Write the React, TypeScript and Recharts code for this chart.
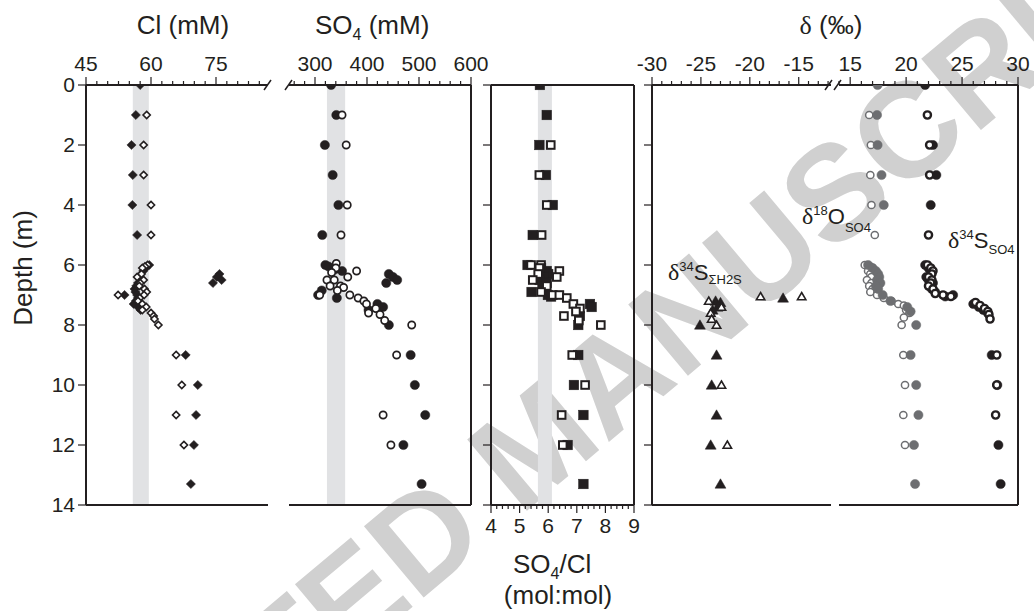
import React from 'react';
import { ScatterChart, Scatter, XAxis, YAxis, ReferenceArea, ReferenceLine } from 'recharts';

const INK = '#231f20';
const GREY = '#6d6e71';
const BAND = '#e1e2e4';
const FONT = '"Liberation Sans", Arial, Helvetica, sans-serif';
const SERIF = '"Liberation Serif", "DejaVu Serif", serif';

const W = 1034;
const H = 611;
const PLOT_TOP = 85;
const PLOT_BOTTOM = 505;

// depth axis (m, reversed)
const depthTicks = [0, 2, 4, 6, 8, 10, 12, 14];

// labelled x ticks
const clTicks = [45, 60, 75];
const so4Ticks = [300, 400, 500, 600];
const ratioTicks = [4, 5, 6, 7, 8, 9];
const isoLowTicks = [-30, -25, -20, -15];
const isoHighTicks = [15, 20, 25, 30];

// grey reference bands
const clBand = [55.8, 59.5];
const so4Band = [323, 358];
const ratioBand = [5.64, 6.13];

// all series are [depth (m), value]
const clFilled: [number, number][] = [
  [0, 57.5], [1, 56.5], [2, 55.5], [3, 55.8], [4, 55.7], [5, 56.8],
  [6.0, 59.6], [6.1, 58.8], [6.2, 58.2], [6.3, 75.8], [6.4, 75.2], [6.5, 76.3], [6.6, 74.3],
  [6.4, 57.2], [6.6, 57.0], [6.7, 56.6], [6.8, 56.2], [6.9, 56.4], [7.0, 53.9], [7.0, 56.8],
  [7.1, 57.0], [7.2, 56.5], [7.3, 56.0], [7.4, 57.0], [7.5, 57.6],
  [9, 68.0], [10, 70.8], [11, 70.4], [12, 69.9], [13.3, 69.2],
];
const clOpen: [number, number][] = [
  [1, 59.0], [2, 58.3], [3, 58.3], [4, 60.0], [5, 60.0],
  [6.0, 59.2], [6.05, 58.6], [6.1, 58.0], [6.3, 57.8], [6.4, 56.8], [6.5, 58.3], [6.6, 57.5],
  [6.7, 57.3], [6.8, 58.5], [6.9, 59.0], [7.0, 52.4], [7.0, 58.4], [7.1, 57.4], [7.2, 57.0],
  [7.3, 58.0], [7.4, 58.9], [7.5, 58.0], [7.6, 60.0], [7.7, 60.6], [7.8, 60.8], [8.0, 61.7],
  [9, 65.8], [10, 67.1], [11, 65.8], [12, 67.6],
];

const so4Filled: [number, number][] = [
  [0, 331], [1, 341], [2, 319], [3, 334], [4, 345], [5, 314],
  [6.0, 320], [6.05, 326], [6.15, 338], [6.2, 352], [6.3, 442], [6.4, 450], [6.5, 458], [6.6, 437],
  [6.85, 313], [7.0, 306], [7.1, 342], [7.3, 420], [7.4, 431], [7.5, 403], [8.0, 442],
  [9, 484], [10, 492], [11, 512], [12, 470], [13.3, 505],
];
const so4Open: [number, number][] = [
  [1, 352], [2, 360], [4, 362], [5, 350],
  [5.95, 341], [6.1, 340], [6.2, 380], [6.25, 332], [6.4, 363], [6.5, 323], [6.5, 337],
  [6.7, 329], [6.7, 349], [6.75, 355], [6.85, 343], [7.0, 309], [7.0, 367], [7.1, 383],
  [7.2, 394], [7.3, 399], [7.45, 417], [7.6, 403], [7.65, 425], [7.85, 434], [8.0, 486],
  [9, 457], [11, 431], [12, 446],
];

const ratioFilled: [number, number][] = [
  [0, 5.71], [1, 5.95], [2, 5.69], [3, 5.92], [4, 6.16], [5, 5.46],
  [6.0, 5.28], [6.1, 5.75], [6.2, 5.95], [6.3, 6.0], [6.4, 5.85], [6.5, 5.7], [6.6, 5.95],
  [6.7, 5.8], [6.9, 5.42], [7.0, 5.99], [7.05, 6.1], [7.3, 7.46], [7.4, 7.52], [7.7, 7.11],
  [8.0, 7.05], [9, 7.05], [10, 6.9], [11, 7.23], [12, 6.68], [13.3, 7.23],
];
const ratioOpen: [number, number][] = [
  [2, 6.09], [3, 5.69], [4, 5.95], [5, 5.77],
  [6.0, 5.40], [6.0, 5.75], [6.1, 5.69], [6.2, 6.39], [6.3, 5.65], [6.4, 6.30], [6.5, 5.46],
  [6.7, 5.95], [6.9, 5.75], [7.0, 6.16], [7.0, 6.39], [7.1, 6.65], [7.3, 6.88], [7.45, 7.11],
  [7.55, 6.97], [7.7, 6.55], [7.85, 7.07], [8.0, 7.84],
  [9, 6.84], [10, 7.29], [11, 6.47], [12, 6.51],
];

const h2sFilled: [number, number][] = [
  [7.1, -16.6], [7.2, -23.5], [7.25, -23.0], [7.4, -23.3], [7.5, -23.8], [8.0, -25.1],
  [9, -23.4], [10, -23.9], [11, -23.4], [12, -24.0], [13.3, -23.0],
];
const h2sOpen: [number, number][] = [
  [7.05, -18.9], [7.05, -14.7], [7.2, -24.2], [7.4, -22.9], [7.6, -24.0], [7.8, -23.9],
  [8.0, -23.4], [10, -22.9], [12, -22.3],
];

const o18Filled: [number, number][] = [
  [0, 17.45], [1, 17.4], [2, 17.45], [3, 17.8], [4, 18.0],
  [6.0, 16.6], [6.1, 17.0], [6.2, 17.3], [6.3, 17.5], [6.4, 17.6], [6.5, 17.4], [6.6, 17.7],
  [6.7, 17.3], [6.8, 17.5], [7.0, 17.9], [7.2, 18.6], [7.4, 20.1], [7.55, 20.4], [8.0, 20.9],
  [9, 20.4], [10, 20.9], [11, 21.1], [12, 20.7], [13.3, 20.8],
];
const o18Open: [number, number][] = [
  [1, 16.7], [2, 16.85], [3, 16.8], [4, 16.9], [5, 17.2],
  [6.0, 16.3], [6.05, 16.8], [6.1, 17.0], [6.2, 16.6], [6.3, 16.8], [6.4, 16.9], [6.5, 16.5],
  [6.6, 16.9], [6.7, 16.7], [6.8, 17.0], [6.9, 16.8], [7.0, 17.4], [7.1, 18.0], [7.2, 18.7],
  [7.3, 19.3], [7.35, 19.8], [7.5, 20.0], [7.6, 20.3], [7.75, 19.8], [8.0, 19.6],
  [9, 19.75], [10, 19.9], [11, 19.75], [12, 19.9],
];

const s34Filled: [number, number][] = [
  [0, 21.7], [2, 22.4], [3, 22.7], [4, 22.2],
  [6.0, 21.7], [6.1, 22.0], [6.2, 22.2], [6.4, 21.8], [6.5, 22.0], [6.6, 22.4], [6.7, 22.1],
  [6.8, 22.3], [6.9, 22.6], [7.0, 24.2], [7.05, 23.5], [7.3, 26.0], [7.4, 26.5], [7.5, 26.9],
  [7.6, 27.3], [9, 27.65], [10, 28.15], [12, 28.25], [13.3, 28.45],
];
const s34Open: [number, number][] = [
  [1, 21.9], [2, 22.1], [3, 22.1], [5, 22.0],
  [6.0, 21.9], [6.1, 22.2], [6.2, 22.4], [6.3, 22.3], [6.4, 22.0], [6.5, 22.3], [6.6, 22.2],
  [6.7, 22.0], [6.8, 22.4], [6.95, 22.6], [7.0, 23.3], [7.05, 24.0], [7.25, 26.2], [7.35, 26.6],
  [7.45, 27.0], [7.55, 27.3], [7.65, 27.4], [7.8, 27.5],
  [9, 28.1], [10, 28.1], [11, 28.0],
];

const pts = (rows: [number, number][]) => rows.map(([d, v]) => ({ d, v }));

const steps = (from: number, to: number, step: number) => {
  const out: number[] = [];
  for (let v = from; v <= to + 1e-9; v += step) out.push(Math.round(v * 100) / 100);
  return out;
};

// ---- tick renderers (major + minor ticks on one axis) ----
const TS = 8;
const TM = 3;

const topTick = (majors: number[]) => (props: any) => {
  const { x, y, payload } = props;
  const base = y + TS + TM;
  const major = majors.includes(payload.value);
  return (
    <g>
      <line x1={x} x2={x} y1={base} y2={base - (major ? TS : 4)} stroke={INK} strokeWidth={1.2} />
      {major ? (
        <text x={x} y={base - 14} textAnchor="middle" fontSize={21} fontFamily={FONT} fill={INK}>
          {payload.value}
        </text>
      ) : null}
    </g>
  );
};

const bottomTick = (majors: number[]) => (props: any) => {
  const { x, y, payload } = props;
  const base = y - TS - TM;
  const major = majors.includes(payload.value);
  return (
    <g>
      <line x1={x} x2={x} y1={base} y2={base + (major ? TS : 4)} stroke={INK} strokeWidth={1.2} />
      {major ? (
        <text x={x} y={base + 28} textAnchor="middle" fontSize={21} fontFamily={FONT} fill={INK}>
          {payload.value}
        </text>
      ) : null}
    </g>
  );
};

const noLabel = () => <g />;

// ---- marker shapes ----
const diamond = (fill: string, r: number, sw: number) => (p: any) => (
  <path
    d={`M${p.cx},${p.cy - r}L${p.cx + r},${p.cy}L${p.cx},${p.cy + r}L${p.cx - r},${p.cy}Z`}
    fill={fill}
    stroke={INK}
    strokeWidth={sw}
  />
);
const circle = (fill: string, stroke: string, r: number, sw: number) => (p: any) => (
  <circle cx={p.cx} cy={p.cy} r={r} fill={fill} stroke={stroke} strokeWidth={sw} />
);
const square = (fill: string, h: number, sw: number) => (p: any) => (
  <rect x={p.cx - h} y={p.cy - h} width={2 * h} height={2 * h} fill={fill} stroke={INK} strokeWidth={sw} />
);
const triangle = (fill: string, r: number, sw: number) => (p: any) => (
  <path
    d={`M${p.cx},${p.cy - r}L${p.cx + r * 1.05},${p.cy + r * 0.8}L${p.cx - r * 1.05},${p.cy + r * 0.8}Z`}
    fill={fill}
    stroke={INK}
    strokeWidth={sw}
    strokeLinejoin="miter"
  />
);

const axisStroke = { stroke: INK, strokeWidth: 2 };
const frame = { stroke: INK, strokeWidth: 2 };
const box = (left: number): React.CSSProperties => ({ position: 'absolute', left: 0, top: 0, width: W, height: H, zIndex: left });

const depthAxis = (
  visible: boolean,
  labels: boolean
) =>
  visible ? (
    <YAxis
      type="number"
      dataKey="d"
      domain={[0, 14]}
      reversed
      allowDataOverflow
      ticks={depthTicks}
      interval={0}
      width={50}
      tickSize={TS}
      tickMargin={TM}
      axisLine={axisStroke}
      tickLine={{ stroke: INK, strokeWidth: 1.2 }}
      tick={labels ? { fontSize: 21, fill: INK, fontFamily: FONT } : noLabel}
    />
  ) : (
    <YAxis type="number" dataKey="d" domain={[0, 14]} reversed allowDataOverflow hide />
  );

const topAxis = (domain: [number, number], ticks: number[], majors: number[]) => (
  <XAxis
    type="number"
    dataKey="v"
    orientation="top"
    domain={domain}
    allowDataOverflow
    ticks={ticks}
    interval={0}
    height={30}
    tickSize={TS}
    tickMargin={TM}
    axisLine={axisStroke}
    tickLine={false}
    tick={topTick(majors)}
  />
);

const margins = (x0: number, x1: number, leftAxis: boolean, top: boolean, bottom: boolean) => ({
  left: x0 - (leftAxis ? 50 : 0),
  right: W - x1,
  top: PLOT_TOP - (top ? 30 : 0),
  bottom: H - PLOT_BOTTOM - (bottom ? 30 : 0),
});

function Watermark() {
  return (
    <svg width={W} height={H} style={{ position: 'absolute', left: 0, top: 0 }}>
      <text
        x={566}
        y={478}
        textAnchor="middle"
        fontSize={135}
        fontWeight="bold"
        fontFamily={FONT}
        fill="#d0d0d0"
        transform="rotate(-40 566 478)"
      >
        ACCEPTED MANUSCRIPT
      </text>
    </svg>
  );
}

function Labels() {
  const t = { fill: INK, fontFamily: FONT };
  return (
    <svg width={W} height={H} style={{ position: 'absolute', left: 0, top: 0, pointerEvents: 'none' }}>
      <text x={183} y={34} fontSize={26} textAnchor="middle" {...t}>Cl (mM)</text>
      <text x={315} y={34} fontSize={26} {...t}>
        SO<tspan fontSize={16} dy={6}>4</tspan>
        <tspan dy={-6}> (mM)</tspan>
      </text>
      <text x={831} y={34} fontSize={26} textAnchor="middle" {...t}>
        <tspan fontFamily={SERIF}>δ</tspan> (‰)
      </text>
      <text x={513} y={573} fontSize={26} {...t}>
        SO<tspan fontSize={16} dy={6}>4</tspan>
        <tspan dy={-6}>/Cl</tspan>
      </text>
      <text x={558} y={604} fontSize={26} textAnchor="middle" {...t}>(mol:mol)</text>
      <text x={32} y={268} fontSize={26} textAnchor="middle" transform="rotate(-90 32 268)" {...t}>
        Depth (m)
      </text>

      <text x={802} y={224} fontSize={22} {...t}>
        <tspan fontFamily={SERIF} fontSize={24}>δ</tspan>
        <tspan fontSize={13} dy={-9}>18</tspan>
        <tspan dy={9}>O</tspan>
        <tspan fontSize={13} dy={8}>SO4</tspan>
      </text>
      <text x={948} y={248} fontSize={22} {...t}>
        <tspan fontFamily={SERIF} fontSize={24}>δ</tspan>
        <tspan fontSize={13} dy={-9}>34</tspan>
        <tspan dy={9}>S</tspan>
        <tspan fontSize={13} dy={6}>SO4</tspan>
      </text>
      <text x={668} y={280} fontSize={22} {...t}>
        <tspan fontFamily={SERIF} fontSize={24}>δ</tspan>
        <tspan fontSize={13} dy={-9}>34</tspan>
        <tspan dy={9}>S</tspan>
        <tspan fontSize={13} dy={4}>ΣH2S</tspan>
      </text>

      {/* axis break marks */}
      <g stroke={INK} strokeWidth={1.5}>
        <line x1={264} y1={90} x2={271} y2={80} />
        <line x1={285} y1={90} x2={292} y2={80} />
        <line x1={825} y1={90} x2={832} y2={80} />
        <line x1={834} y1={90} x2={841} y2={80} />
      </g>
    </svg>
  );
}

export default function App() {
  return (
    <div style={{ position: 'absolute', left: 0, top: 0, width: W, height: H, background: '#fff', overflow: 'hidden' }}>
      <Watermark />

      {/* Cl */}
      <div style={box(1)}>
        <ScatterChart width={W} height={H} margin={margins(86, 268, true, true, false)}>
          {depthAxis(true, true)}
          {topAxis([45, 87], steps(45, 85, 2.5), clTicks)}
          <ReferenceArea x1={clBand[0]} x2={clBand[1]} y1={0} y2={14} fill={BAND} fillOpacity={1} stroke="none" ifOverflow="hidden" />
          <ReferenceLine y={14} {...frame} />
          <Scatter data={pts(clFilled)} isAnimationActive={false} shape={diamond(INK, 4.6, 0.5)} />
          <Scatter data={pts(clOpen)} isAnimationActive={false} shape={diamond('#fff', 3.6, 1.6)} />
        </ScatterChart>
      </div>

      {/* SO4 */}
      <div style={box(2)}>
        <ScatterChart width={W} height={H} margin={margins(289, 471, false, true, false)}>
          {depthAxis(false, false)}
          {topAxis([250, 600], steps(260, 600, 20), so4Ticks)}
          <ReferenceArea x1={so4Band[0]} x2={so4Band[1]} y1={0} y2={14} fill={BAND} fillOpacity={1} stroke="none" ifOverflow="hidden" />
          <ReferenceLine y={14} {...frame} />
          <ReferenceLine x={600} {...frame} />
          <Scatter data={pts(so4Filled)} isAnimationActive={false} shape={circle(INK, INK, 4.6, 0.5)} />
          <Scatter data={pts(so4Open)} isAnimationActive={false} shape={circle('#fff', INK, 3.6, 1.7)} />
        </ScatterChart>
      </div>

      {/* SO4/Cl */}
      <div style={box(3)}>
        <ScatterChart width={W} height={H} margin={margins(491, 634, true, false, true)}>
          {depthAxis(true, false)}
          <XAxis
            type="number"
            dataKey="v"
            orientation="bottom"
            domain={[4, 9]}
            allowDataOverflow
            ticks={steps(4, 9, 0.2)}
            interval={0}
            height={30}
            tickSize={TS}
            tickMargin={TM}
            axisLine={axisStroke}
            tickLine={false}
            tick={bottomTick(ratioTicks)}
          />
          <ReferenceArea x1={ratioBand[0]} x2={ratioBand[1]} y1={0} y2={14} fill={BAND} fillOpacity={1} stroke="none" ifOverflow="hidden" />
          <ReferenceLine y={0} {...frame} />
          <ReferenceLine x={9} {...frame} />
          <Scatter data={pts(ratioFilled)} isAnimationActive={false} shape={square(INK, 4.8, 0.5)} />
          <Scatter data={pts(ratioOpen)} isAnimationActive={false} shape={square('#fff', 3.8, 2)} />
        </ScatterChart>
      </div>

      {/* delta 34S H2S (left part of broken axis) */}
      <div style={box(4)}>
        <ScatterChart width={W} height={H} margin={margins(652, 831, true, true, false)}>
          {depthAxis(true, false)}
          {topAxis([-30, -11.7], steps(-30, -12, 1), isoLowTicks)}
          <ReferenceLine y={14} {...frame} />
          <Scatter data={pts(h2sFilled)} isAnimationActive={false} shape={triangle(INK, 5.2, 0.5)} />
          <Scatter data={pts(h2sOpen)} isAnimationActive={false} shape={triangle('#fff', 4, 1.6)} />
        </ScatterChart>
      </div>

      {/* delta 18O / 34S of sulfate (right part) */}
      <div style={box(5)}>
        <ScatterChart width={W} height={H} margin={margins(839, 1018, false, true, false)}>
          {depthAxis(false, false)}
          {topAxis([14, 30], steps(14, 30, 1), isoHighTicks)}
          <ReferenceLine y={14} {...frame} />
          <ReferenceLine x={30} {...frame} />
          <Scatter data={pts(o18Open)} isAnimationActive={false} shape={circle('#fff', GREY, 3.6, 1.5)} />
          <Scatter data={pts(o18Filled)} isAnimationActive={false} shape={circle(GREY, GREY, 4.6, 0.5)} />
          <Scatter data={pts(s34Filled)} isAnimationActive={false} shape={circle(INK, INK, 4.6, 0.5)} />
          <Scatter data={pts(s34Open)} isAnimationActive={false} shape={circle('#fff', INK, 3.6, 2.4)} />
        </ScatterChart>
      </div>

      <div style={box(6)}>
        <Labels />
      </div>
    </div>
  );
}
